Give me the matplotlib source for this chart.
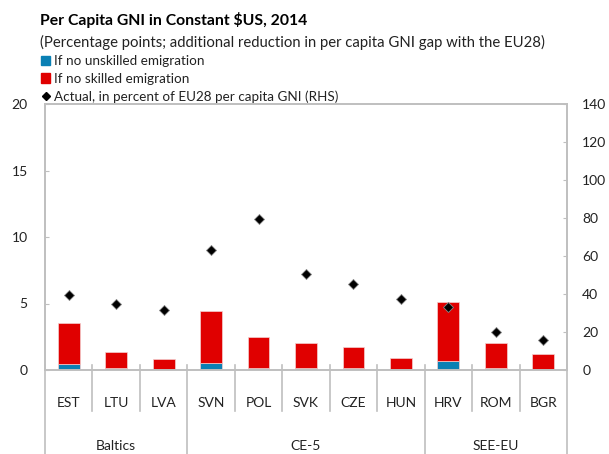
import matplotlib.pyplot as plt
import matplotlib.transforms as mtransforms
from matplotlib.patches import Patch
from matplotlib.lines import Line2D

plt.rcParams["font.family"] = ["Lato", "DejaVu Sans"]

# Data
countries = ["EST", "LTU", "LVA", "SVN", "POL", "SVK", "CZE", "HUN", "HRV", "ROM", "BGR"]
groups = ["Baltics", "CE-5", "SEE-EU"]
group_sizes = [3, 5, 3]
unskilled = [0.43, 0.17, 0.02, 0.52, 0.17, 0.17, 0.17, 0.02, 0.68, 0.17, 0.02]
skilled = [3.10, 1.21, 0.81, 3.91, 2.33, 1.86, 1.53, 0.86, 4.41, 1.86, 1.21]
actual = [39.6, 34.7, 31.4, 63.0, 79.3, 50.4, 45.1, 37.4, 33.3, 19.8, 15.8]

BLUE = "#0a80b4"
RED = "#e00000"
GRID = "#bfbfbf"
TXT = "#222222"

fig = plt.figure(figsize=(6.09, 4.54), dpi=100)
ax = fig.add_axes([45 / 609, 1 - 370 / 454, 522 / 609, 266 / 454])

x = list(range(len(countries)))
ax.bar(x, unskilled, width=0.46, color=BLUE, edgecolor="#f4d0d0", linewidth=0.5, zorder=2)
ax.bar(x, skilled, width=0.46, bottom=unskilled, color=RED, edgecolor="#f4d0d0",
       linewidth=0.5, zorder=2)

ax.set_xlim(-0.5, len(countries) - 0.5)
ax.set_ylim(0, 20)
ax.set_yticks([0, 5, 10, 15, 20])
ax.set_xticks([])
ax.tick_params(axis="y", direction="in", length=3, color=GRID, labelsize=10,
               labelcolor=TXT, pad=12.5)
for s in ax.spines.values():
    s.set_color(GRID)
    s.set_linewidth(1.2)

ax2 = ax.twinx()
ax2.plot(x, actual, linestyle="none", marker="D", markersize=5.5, color="black",
         markeredgecolor="#888888", markeredgewidth=0.6, zorder=3)
ax2.set_ylim(0, 140)
ax2.set_yticks(range(0, 141, 20))
ax2.tick_params(axis="y", direction="in", length=3, color=GRID, labelsize=10,
                labelcolor=TXT, pad=11)
for s in ax2.spines.values():
    s.set_color(GRID)
    s.set_linewidth(1.2)

# category axis below the plot
trans = mtransforms.blended_transform_factory(ax.transData, ax.transAxes)
px = 1 / 266
group_edges = [-0.5]
for n in group_sizes:
    group_edges.append(group_edges[-1] + n)
for i in range(len(countries) + 1):
    b = i - 0.5
    bottom = -84 * px if b in group_edges else -41 * px
    ax.plot([b, b], [5 * px, bottom], color=GRID, linewidth=1.2, transform=trans,
            clip_on=False, zorder=1)
for i, c in enumerate(countries):
    ax.text(i, -33 * px, c, transform=trans, ha="center", va="center", fontsize=10,
            color=TXT)
for g, a, b in zip(groups, group_edges[:-1], group_edges[1:]):
    ax.text((a + b) / 2, -76 * px, g, transform=trans, ha="center", va="center",
            fontsize=10, color=TXT)

# titles and legend
fig.text(40 / 609, 1 - 20 / 454, "Per Capita GNI in Constant $US, 2014", fontsize=11.3,
         fontweight="bold", color="black", va="center")
fig.text(40 / 609, 1 - 42 / 454,
         "(Percentage points; additional reduction in per capita GNI gap with the EU28)",
         fontsize=10.7, color=TXT, va="center")
handles = [Patch(color=BLUE), Patch(color=RED),
           Line2D([], [], linestyle="none", marker="D", markersize=4, color="black")]
labels = ["If no unskilled emigration", "If no skilled emigration",
          "Actual, in percent of EU28 per capita GNI (RHS)"]
fig.legend(handles, labels, loc="upper left", bbox_to_anchor=(41 / 609, 1 - 55 / 454),
           frameon=False, fontsize=9.7, handlelength=0.7, handleheight=0.7,
           handletextpad=0.3, labelspacing=0.42, borderpad=0, borderaxespad=0,
           labelcolor=TXT)

fig.savefig("out.png", dpi=100)
